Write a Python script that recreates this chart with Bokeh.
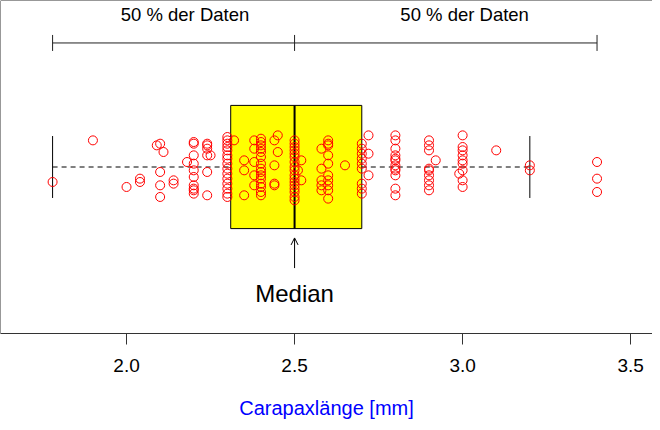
from bokeh.plotting import figure
from bokeh.models import Range1d, FixedTicker, Span, Arrow, OpenHead, Label, ColumnDataSource
from bokeh.embed import file_html
from bokeh.resources import INLINE

# ---- data ----
lengths = [
    1.78, 1.90, 2.00, 2.04, 2.04,
    2.09, 2.10, 2.11, 2.10, 2.10, 2.10, 2.14, 2.14, 2.18,
    2.20, 2.20, 2.20, 2.20, 2.20, 2.20, 2.20, 2.20, 2.20, 2.20,
    2.24, 2.24, 2.24, 2.24, 2.24, 2.24, 2.25,
    2.30, 2.30, 2.30, 2.30, 2.30, 2.30, 2.30, 2.30, 2.30, 2.30, 2.30, 2.30, 2.30, 2.30, 2.30,
    2.32, 2.35, 2.35, 2.35,
    2.38, 2.38, 2.38, 2.38, 2.38,
    2.40, 2.40, 2.40, 2.40, 2.40, 2.40, 2.40, 2.40, 2.40, 2.40, 2.40, 2.40, 2.40, 2.40, 2.40,
    2.45, 2.45, 2.44, 2.44, 2.44, 2.44,
    2.50, 2.50, 2.50, 2.50, 2.50, 2.50, 2.50, 2.50, 2.50, 2.50, 2.50, 2.50, 2.50, 2.50, 2.50, 2.50, 2.50,
    2.52, 2.52, 2.51,
    2.58, 2.58, 2.58, 2.58, 2.58,
    2.60, 2.60, 2.60, 2.60, 2.60, 2.60, 2.60, 2.60, 2.60, 2.60,
    2.65,
    2.70, 2.70, 2.70, 2.70, 2.70, 2.70, 2.70, 2.70, 2.70,
    2.72, 2.72, 2.72,
    2.80, 2.80, 2.80, 2.80, 2.80, 2.80, 2.80, 2.80, 2.80, 2.80, 2.80, 2.80,
    2.90, 2.90, 2.90, 2.90, 2.90, 2.90, 2.90, 2.90, 2.90, 2.92,
    2.99,
    3.00, 3.00, 3.00, 3.00, 3.00, 3.00, 3.00, 3.00, 3.00,
    3.10, 3.20, 3.20,
    3.40, 3.40, 3.40,
]
jitter = [
    -0.09, 0.16, -0.12, -0.07, -0.09,
    0.13, 0.14, 0.09, -0.03, -0.11, -0.18, -0.08, -0.10, 0.03,
    0.15, 0.14, 0.07, 0.02, -0.02, -0.06, -0.11, -0.13, -0.14, -0.16,
    0.14, 0.13, 0.11, 0.07, -0.03, -0.17, 0.07,
    0.18, 0.16, 0.14, 0.12, 0.10, 0.07, 0.05, 0.02, -0.01, -0.04, -0.07, -0.10, -0.13, -0.16, -0.18,
    0.16, 0.04, -0.02, -0.17,
    0.16, 0.11, 0.03, -0.05, -0.11,
    0.17, 0.15, 0.13, 0.11, 0.09, 0.06, 0.02, -0.01, -0.03, -0.05, -0.07, -0.10, -0.12, -0.15, -0.17,
    0.19, 0.09, 0.16, 0.01, -0.10, -0.11,
    0.16, 0.14, 0.12, 0.10, 0.08, 0.06, 0.03, 0.00, -0.02, -0.05, -0.07, -0.09, -0.11, -0.13, -0.15, -0.18, -0.20,
    0.04, -0.08, -0.02,
    0.11, -0.01, -0.08, -0.11, -0.14,
    0.16, 0.14, 0.13, 0.07, 0.02, -0.05, -0.08, -0.11, -0.14, -0.19,
    0.01,
    0.14, 0.11, 0.08, 0.05, 0.02, -0.01, -0.10, -0.13, -0.16,
    0.19, 0.08, -0.05,
    0.19, 0.16, 0.11, 0.07, 0.05, 0.04, 0.01, -0.01, -0.02, -0.05, -0.13, -0.17,
    0.16, 0.13, 0.10, -0.01, -0.02, -0.05, -0.08, -0.11, -0.14, 0.04,
    -0.04,
    0.19, 0.12, 0.10, 0.07, 0.04, 0.02, -0.02, -0.08, -0.12,
    0.10, 0.01, -0.02,
    0.03, -0.07, -0.15,
]

whisker_lo = 1.78
q1 = 2.31
median = 2.50
q3 = 2.70
whisker_hi = 3.20
data_min = 1.78
data_max = 3.40

ticks = [2.0, 2.5, 3.0, 3.5]
tick_labels = ["2.0", "2.5", "3.0", "3.5"]
bracket_text = "50 % der Daten"
bracket_text_x = [2.174, 3.006]
median_text = "Median"
x_title = "Carapaxlänge [mm]"

FONT = "Liberation Sans"

# ---- figure ----
x_start, x_end = 1.625, 3.565
p = figure(width=652, height=422, x_range=Range1d(x_start, x_end), y_range=Range1d(-1.0, 1.0),
           y_axis_location=None, output_backend="svg", toolbar_location=None,
           min_border_left=0, min_border_right=0, min_border_top=0, min_border_bottom=89)
p.outline_line_color = None
p.grid.visible = False
p.background_fill_color = "white"

# frame (left and top sides; bottom is the axis line)
p.add_layout(Span(location=x_start, dimension="height", line_color="#333333", line_width=1))
p.add_layout(Span(location=1.0, dimension="width", line_color="#333333", line_width=1))

# axis
ax = p.xaxis[0]
ax.ticker = FixedTicker(ticks=ticks)
ax.major_label_overrides = {t: l for t, l in zip(ticks, tick_labels)}
ax.minor_tick_line_color = None
ax.major_tick_in = 0
ax.major_tick_out = 11
ax.major_tick_line_color = "#333333"
ax.axis_line_color = "#333333"
ax.major_label_text_font = FONT
ax.major_label_text_font_size = "19px"
ax.major_label_text_color = "black"
ax.major_label_standoff = 14
ax.axis_label = x_title
ax.axis_label_text_font = FONT
ax.axis_label_text_font_size = "20px"
ax.axis_label_text_font_style = "normal"
ax.axis_label_text_color = "#0000ff"
ax.axis_label_standoff = 22

# box
box_h = 0.37
cap_h = 0.186
p.quad(left=[q1], right=[q3], bottom=[-box_h], top=[box_h], fill_color="#ffff00",
       line_color="black", line_width=1)
p.segment(x0=[median], x1=[median], y0=[-box_h], y1=[box_h], line_color="black", line_width=2)
# whiskers
p.segment(x0=[whisker_lo, q3], x1=[q1, whisker_hi], y0=[0, 0], y1=[0, 0],
          line_color="black", line_width=1, line_dash="5 4")
p.segment(x0=[whisker_lo, whisker_hi], x1=[whisker_lo, whisker_hi], y0=[-cap_h, -cap_h], y1=[cap_h, cap_h],
          line_color="black", line_width=1)

# points
src = ColumnDataSource(dict(x=lengths, y=jitter))
p.scatter(x="x", y="y", source=src, size=9, marker="circle", fill_color=None,
          line_color="#ff0000", line_width=1)

# bracket
by = 0.745
bt = 0.048
p.segment(x0=[data_min], x1=[data_max], y0=[by], y1=[by], line_color="#222222", line_width=1)
p.segment(x0=[data_min, median, data_max], x1=[data_min, median, data_max],
          y0=[by - bt] * 3, y1=[by + bt] * 3, line_color="#222222", line_width=1)
for xc in bracket_text_x:
    p.add_layout(Label(x=xc, y=0.913, text=bracket_text, text_align="center", text_baseline="middle",
                       text_font=FONT, text_font_size="18.5px", text_color="black"))

# median arrow + label
p.add_layout(Arrow(end=OpenHead(size=7, line_width=1, line_color="black"),
                   x_start=median, y_start=-0.607, x_end=median, y_end=-0.426,
                   line_color="black", line_width=1))
p.add_layout(Label(x=median, y=-0.757, text=median_text, text_align="center", text_baseline="middle",
                   text_font=FONT, text_font_size="24px", text_color="black"))

open("out.html", "w").write(file_html(p, INLINE))
